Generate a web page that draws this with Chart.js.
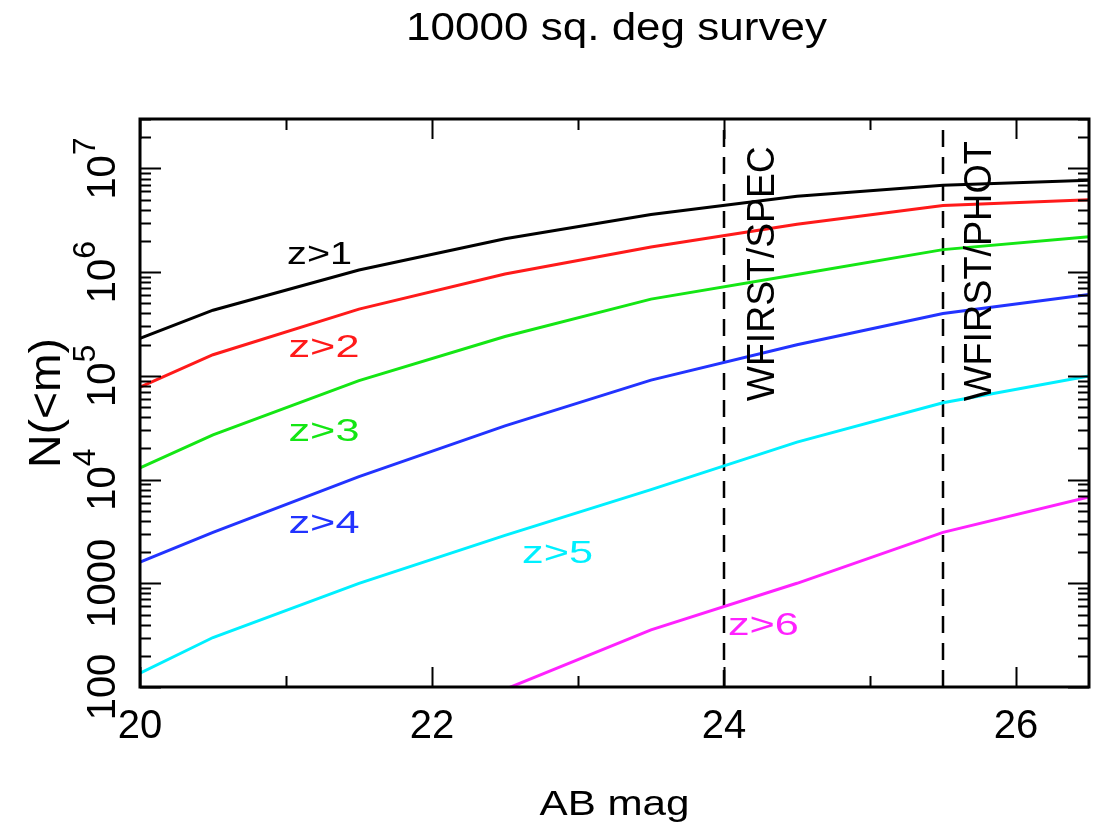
<!DOCTYPE html>
<html>
<head>
<meta charset="utf-8">
<script src="https://cdn.jsdelivr.net/npm/chart.js@4.4.1/dist/chart.umd.min.js"></script>
<style>
  html, body { margin: 0; padding: 0; background: #ffffff; }
  #wrap { width: 1095px; height: 826px; position: relative; }
</style>
</head>
<body>
<div id="wrap"><canvas id="chart"></canvas></div>
<script>
// cumulative counts N(<m) for a 10000 sq. deg survey
const MAGS = [20, 20.5, 21.5, 22.5, 23.5, 24.5, 25.5, 26.5];
const N_Z1 = [2.3e5, 4.3e5, 1.05e6, 2.1e6, 3.6e6, 5.4e6, 6.9e6, 7.7e6];
const N_Z2 = [7.8e4, 1.6e5, 4.4e5, 9.6e5, 1.75e6, 2.9e6, 4.4e6, 5.0e6];
const N_Z3 = [1.3e4, 2.7e4, 9.0e4, 2.4e5, 5.5e5, 9.5e5, 1.65e6, 2.2e6];
const N_Z4 = [1.6e3, 3.1e3, 1.07e4, 3.3e4, 9.1e4, 2.0e5, 4.0e5, 6.1e5];
const N_Z5 = [136, 300, 1.0e3, 2.9e3, 8.0e3, 2.3e4, 5.5e4, 1.0e5];
const N_Z6 = [null, null, null, 95, 355, 1.0e3, 3.1e3, 6.8e3];

const SERIES = [N_Z1, N_Z2, N_Z3, N_Z4, N_Z5, N_Z6];
const SERIES_NAMES = ['z>1', 'z>2', 'z>3', 'z>4', 'z>5', 'z>6'];
const SERIES_COLORS = ['#000000', '#ff1a1a', '#14e614', '#2233ff', '#00f0ff', '#ff22ff'];

// label anchors in data units: [mag, N]
const SERIES_LABEL_AT = [[21.23, 1.19e6], [21.26, 1.51e5], [21.26, 2.33e4], [21.26, 3.08e3], [22.86, 1.58e3], [24.27, 318]];

const LIMIT_MAGS = [24, 25.5];
const LIMIT_NAMES = ['WFIRST/SPEC', 'WFIRST/PHOT'];
const LIMIT_LABEL_AT = [[24.34, 5.7e4], [25.83, 5.7e4]];

const X_MIN = 20, X_MAX = 26.5;
const Y_MIN = 100, Y_MAX = 3e7;
const X_MAJOR = [20, 22, 24, 26];
const X_MINOR = [21, 23, 25];
const Y_MAJOR = [100, 1000, 1e4, 1e5, 1e6, 1e7];
const Y_LABELS = [['100', ''], ['1000', ''], ['10', '4'], ['10', '5'], ['10', '6'], ['10', '7']];

const FONT = '"Liberation Sans", Arial, sans-serif';

function fittedText(ctx, text, x, y, size, width, align, rotate) {
  ctx.save();
  ctx.font = size + 'px ' + FONT;
  const w = ctx.measureText(text).width;
  ctx.translate(x, y);
  if (rotate) ctx.rotate(-Math.PI / 2);
  ctx.scale(width / w, 1);
  ctx.textAlign = align;
  ctx.textBaseline = 'alphabetic';
  ctx.fillText(text, 0, 0);
  ctx.restore();
}

const framePlugin = {
  id: 'idlFrame',
  afterDatasetsDraw(chart) {
    const { ctx, chartArea: a, scales: { x, y } } = chart;

    // curve labels
    SERIES_NAMES.forEach((name, i) => {
      const [m, n] = SERIES_LABEL_AT[i];
      ctx.fillStyle = SERIES_COLORS[i];
      fittedText(ctx, name, x.getPixelForValue(m), y.getPixelForValue(n), 32, i === 0 ? 65 : 71, 'center', false);
    });

    // survey limit labels, vertical
    ctx.fillStyle = '#000';
    LIMIT_NAMES.forEach((name, i) => {
      const [m, n] = LIMIT_LABEL_AT[i];
      fittedText(ctx, name, x.getPixelForValue(m), y.getPixelForValue(n), 38, i === 0 ? 255 : 260, 'left', true);
    });
  },
  afterDraw(chart) {
    const { ctx, chartArea: a, scales: { x, y } } = chart;
    ctx.save();
    ctx.strokeStyle = '#000';
    ctx.fillStyle = '#000';

    // inward ticks on all four sides
    ctx.lineWidth = 2;
    ctx.beginPath();
    const xt = (v, len) => {
      const px = Math.round(x.getPixelForValue(v)) + 0.5;
      ctx.moveTo(px, a.bottom); ctx.lineTo(px, a.bottom - len);
      ctx.moveTo(px, a.top); ctx.lineTo(px, a.top + len);
    };
    X_MAJOR.forEach(v => xt(v, 20));
    X_MINOR.forEach(v => xt(v, 11));
    const yt = (v, len) => {
      const py = Math.round(y.getPixelForValue(v)) + 0.5;
      ctx.moveTo(a.left, py); ctx.lineTo(a.left + len, py);
      ctx.moveTo(a.right, py); ctx.lineTo(a.right - len, py);
    };
    Y_MAJOR.forEach(d => {
      yt(d, 21);
      for (let k = 2; k <= 9; k++) {
        if (k * d <= Y_MAX) yt(k * d, 11);
      }
    });
    ctx.stroke();

    // frame
    ctx.lineWidth = 3;
    ctx.strokeRect(a.left, a.top, a.right - a.left, a.bottom - a.top);

    // x tick labels
    ctx.font = '40px ' + FONT;
    ctx.textAlign = 'center';
    ctx.textBaseline = 'alphabetic';
    X_MAJOR.forEach(v => {
      ctx.fillText(String(v), x.getPixelForValue(v), 738);
    });

    // y tick labels, rotated with superscripts
    Y_MAJOR.forEach((v, i) => {
      const [base, sup] = Y_LABELS[i];
      ctx.save();
      ctx.translate(115, y.getPixelForValue(v));
      ctx.rotate(-Math.PI / 2);
      ctx.font = '40px ' + FONT;
      const w1 = ctx.measureText(base).width;
      ctx.font = '32px ' + FONT;
      const w2 = sup ? ctx.measureText(sup).width : 0;
      const start = -(w1 + w2) / 2;
      ctx.textAlign = 'left';
      ctx.font = '40px ' + FONT;
      ctx.fillText(base, start, 0);
      if (sup) {
        ctx.font = '32px ' + FONT;
        ctx.fillText(sup, start + w1, -20);
      }
      ctx.restore();
    });

    // titles
    const cx = (a.left + a.right) / 2;
    fittedText(ctx, '10000 sq. deg survey', cx + 2, 40, 39, 421, 'center', false);
    fittedText(ctx, 'AB mag', cx, 815, 35, 150, 'center', false);
    fittedText(ctx, 'N(<m)', 60, (a.top + a.bottom) / 2, 44, 130, 'center', true);

    ctx.restore();
  }
};

const datasets = SERIES.map((vals, i) => ({
  label: SERIES_NAMES[i],
  data: MAGS.map((m, j) => ({ x: m, y: vals[j] })),
  borderColor: SERIES_COLORS[i],
  borderWidth: 3,
  pointRadius: 0,
  tension: 0,
  spanGaps: false,
  clip: 0
}));

LIMIT_MAGS.forEach((m, i) => {
  datasets.push({
    label: LIMIT_NAMES[i],
    data: [{ x: m, y: Y_MIN }, { x: m, y: Y_MAX }],
    borderColor: '#000000',
    borderWidth: 2.5,
    borderDash: [17, 10],
    pointRadius: 0,
    clip: 0
  });
});

new Chart(document.getElementById('chart'), {
  type: 'line',
  data: { datasets },
  options: {
    responsive: true,
    maintainAspectRatio: false,
    animation: false,
    devicePixelRatio: 1,
    layout: { padding: { left: 140, right: 6, top: 119, bottom: 139 } },
    scales: {
      x: { type: 'linear', min: X_MIN, max: X_MAX, display: false },
      y: { type: 'logarithmic', min: Y_MIN, max: Y_MAX, display: false }
    },
    plugins: {
      legend: { display: false },
      tooltip: { enabled: false }
    }
  },
  plugins: [framePlugin]
});
</script>
</body>
</html>
